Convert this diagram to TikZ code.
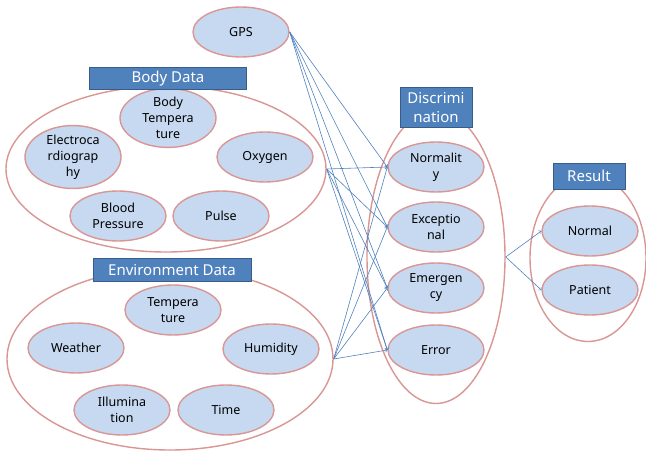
\documentclass[tikz,border=0pt]{standalone}
\usepackage{fontspec}
\setmainfont{Noto Sans}
\usepackage{tikz}
\usetikzlibrary{shapes,arrows,positioning,calc}

\definecolor{itemfill}{RGB}{198,217,241}
\definecolor{itemline}{RGB}{217,150,148}
\definecolor{titlefill}{RGB}{79,129,189}
\definecolor{titleline}{RGB}{56,93,138}

\begin{document}
\begin{tikzpicture}[
    x=1pt, y=-1pt,
    item/.style={ellipse, draw=itemline, line width=1.4pt, fill=itemfill, minimum width=96pt, minimum height=50pt, inner sep=0pt, align=center, font=\fontsize{12.5}{16}\selectfont},
    group/.style={ellipse, draw=itemline, line width=1.4pt, fill=white, inner sep=0pt},
    title/.style={rectangle, draw=titleline, line width=1pt, fill=titlefill, text=white, inner sep=0pt, align=center, font=\fontsize{15}{19}\selectfont},
    arrow/.style={->, draw=titlefill, line width=0.6pt}
]
\useasboundingbox (0,0) rectangle (646,452);

% Groups (big ellipses) drawn first
\node[group, minimum width=320pt, minimum height=166pt] (body) at (166,169) {};
\node[group, minimum width=326pt, minimum height=182pt] (env) at (170,359) {};
\node[group, minimum width=138pt, minimum height=293pt] (disc) at (436,257) {};
\node[group, minimum width=116pt, minimum height=167pt] (result) at (588,258) {};

% Sensor on top
\node[item] (gps) at (241,32) {GPS};

% Body data items
\node[item] (bodytemp) at (168,118) {Body\\Tempera\\ture};
\node[item] (ecg) at (73,157) {Electroca\\rdiograp\\hy};
\node[item] (oxygen) at (265,157) {Oxygen};
\node[item] (blood) at (118,216) {Blood\\Pressure};
\node[item] (pulse) at (221,216) {Pulse};

% Environment data items
\node[item] (envtemp) at (173,310) {Tempera\\ture};
\node[item] (weather) at (76,348) {Weather};
\node[item] (humidity) at (271,349) {Humidity};
\node[item] (illum) at (122,410) {Illumina\\tion};
\node[item] (time) at (226,410) {Time};

% Discrimination items
\node[item] (normality) at (436,167) {Normalit\\y};
\node[item] (exception) at (436,227) {Exceptio\\nal};
\node[item] (emergency) at (436,288) {Emergen\\cy};
\node[item] (error) at (436,350) {Error};

% Result items
\node[item] (normal) at (590,231) {Normal};
\node[item] (patient) at (590,290) {Patient};

% Title boxes
\node[title, minimum width=157pt, minimum height=22pt] (bodytitle) at (168,79) {Body Data};
\node[title, minimum width=158pt, minimum height=23pt] (envtitle) at (172,270) {Environment Data};
\node[title, minimum width=72pt, minimum height=40pt] (disctitle) at (436,108) {Discrimi\\nation};
\node[title, minimum width=72pt, minimum height=26pt] (resulttitle) at (589,176) {Result};

% Arrows into discrimination
\foreach \src in {gps, body, env} {
  \foreach \dst in {normality, exception, emergency, error} {
    \draw[arrow] (\src.east) -- (\dst.west);
  }
}

% Arrows into result
\draw[arrow] (disc.east) -- (normal.west);
\draw[arrow] (disc.east) -- (patient.west);

\end{tikzpicture}
\end{document}
